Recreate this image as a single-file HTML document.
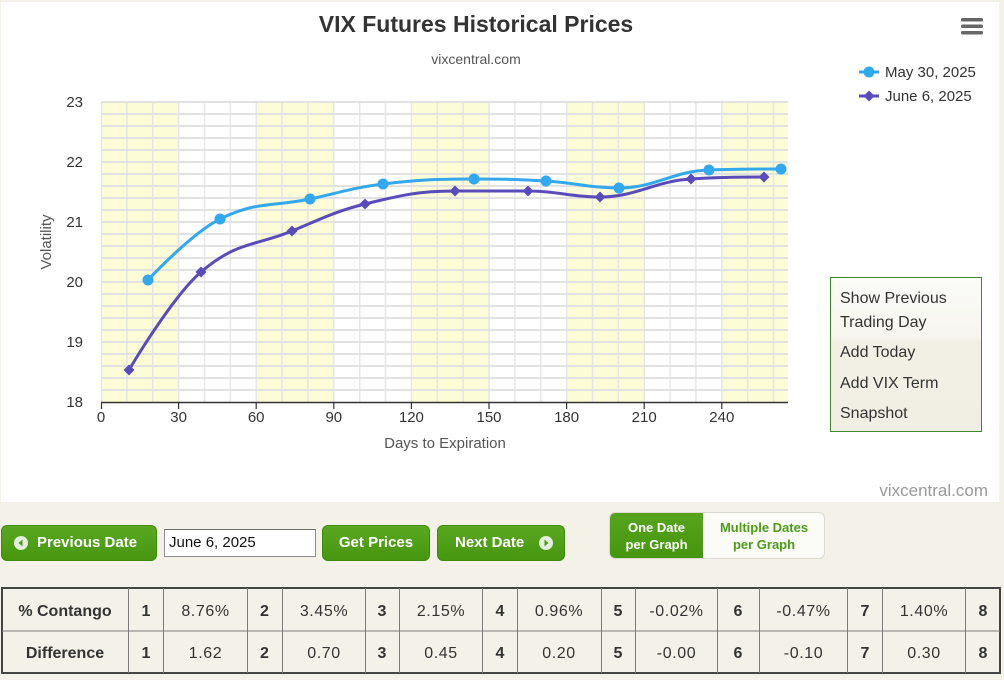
<!DOCTYPE html>
<html>
<head>
<meta charset="utf-8">
<style>
  html,body{margin:0;padding:0;}
  body{width:1004px;height:680px;background:#f4f2e8;position:relative;overflow:hidden;font-family:"Liberation Sans",sans-serif;}
  .white{position:absolute;left:1px;top:2px;width:998px;height:500px;background:#fff;}
  svg{position:absolute;left:0;top:0;}
  .btn{position:absolute;top:525px;height:36px;border-radius:6px;background:linear-gradient(#5aa821,#47960f);border:1px solid #3e8a0c;box-sizing:border-box;color:#fff;font-weight:bold;font-size:15px;line-height:34px;white-space:nowrap;}
  .ico{position:absolute;top:10px;width:14px;height:14px;border-radius:50%;background:#e4eedc;}
  .input{position:absolute;left:164px;top:529px;width:152px;height:28px;box-sizing:border-box;background:#fff;border:1px solid #8e8e8e;border-top-color:#6e6e6e;font-size:15px;line-height:26px;padding-left:4px;color:#111;}
  .tog{position:absolute;left:609px;top:512px;width:216px;height:47px;border-radius:6px;border:1px solid #dcdad0;box-sizing:border-box;background:#fbfbf8;overflow:hidden;}
  .tog div{position:absolute;top:0;height:45px;font-weight:bold;font-size:13px;line-height:17px;text-align:center;padding-top:6px;box-sizing:border-box;}
</style>
</head>
<body>
<div class="white"></div>
<svg width="1004" height="680" viewBox="0 0 1004 680" xmlns="http://www.w3.org/2000/svg" font-family="Liberation Sans, sans-serif">
  <!-- title -->
  <text x="476" y="32" text-anchor="middle" font-size="23" font-weight="bold" fill="#333">VIX Futures Historical Prices</text>
  <text x="476" y="64" text-anchor="middle" font-size="14" fill="#555">vixcentral.com</text>
  <!-- menu -->
  <rect x="961" y="18" width="22" height="3.5" rx="1.5" fill="#666"/>
  <rect x="961" y="24.5" width="22" height="3.5" rx="1.5" fill="#666"/>
  <rect x="961" y="31" width="22" height="3.5" rx="1.5" fill="#666"/>

  <!-- bands -->
  <g fill="#fcfcd6">
    <rect x="101" y="102" width="77.6" height="300"/>
    <rect x="256.2" y="102" width="77.6" height="300"/>
    <rect x="411.4" y="102" width="77.6" height="300"/>
    <rect x="566.6" y="102" width="77.6" height="300"/>
    <rect x="721.8" y="102" width="66.2" height="300"/>
  </g>
  <!-- vertical grid -->
  <g stroke="#e6e6e6" stroke-width="1.5">
    <line x1="126.9" y1="102" x2="126.9" y2="402"/><line x1="152.7" y1="102" x2="152.7" y2="402"/>
    <line x1="178.6" y1="102" x2="178.6" y2="402"/><line x1="204.5" y1="102" x2="204.5" y2="402"/>
    <line x1="230.3" y1="102" x2="230.3" y2="402"/><line x1="256.2" y1="102" x2="256.2" y2="402"/>
    <line x1="282.1" y1="102" x2="282.1" y2="402"/><line x1="307.9" y1="102" x2="307.9" y2="402"/>
    <line x1="333.8" y1="102" x2="333.8" y2="402"/><line x1="359.7" y1="102" x2="359.7" y2="402"/>
    <line x1="385.5" y1="102" x2="385.5" y2="402"/><line x1="411.4" y1="102" x2="411.4" y2="402"/>
    <line x1="437.3" y1="102" x2="437.3" y2="402"/><line x1="463.1" y1="102" x2="463.1" y2="402"/>
    <line x1="489" y1="102" x2="489" y2="402"/><line x1="514.9" y1="102" x2="514.9" y2="402"/>
    <line x1="540.7" y1="102" x2="540.7" y2="402"/><line x1="566.6" y1="102" x2="566.6" y2="402"/>
    <line x1="592.5" y1="102" x2="592.5" y2="402"/><line x1="618.3" y1="102" x2="618.3" y2="402"/>
    <line x1="644.2" y1="102" x2="644.2" y2="402"/><line x1="670.1" y1="102" x2="670.1" y2="402"/>
    <line x1="695.9" y1="102" x2="695.9" y2="402"/><line x1="721.8" y1="102" x2="721.8" y2="402"/>
    <line x1="747.7" y1="102" x2="747.7" y2="402"/><line x1="773.5" y1="102" x2="773.5" y2="402"/>
    <line x1="101.5" y1="102" x2="101.5" y2="402"/>
  </g>
  <!-- horizontal grid -->
  <g stroke="#e2e2e2" stroke-width="2">
    <line x1="101" y1="102" x2="788" y2="102"/><line x1="101" y1="114" x2="788" y2="114"/>
    <line x1="101" y1="126" x2="788" y2="126"/><line x1="101" y1="138" x2="788" y2="138"/>
    <line x1="101" y1="150" x2="788" y2="150"/><line x1="101" y1="162" x2="788" y2="162"/>
    <line x1="101" y1="174" x2="788" y2="174"/><line x1="101" y1="186" x2="788" y2="186"/>
    <line x1="101" y1="198" x2="788" y2="198"/><line x1="101" y1="210" x2="788" y2="210"/>
    <line x1="101" y1="222" x2="788" y2="222"/><line x1="101" y1="234" x2="788" y2="234"/>
    <line x1="101" y1="246" x2="788" y2="246"/><line x1="101" y1="258" x2="788" y2="258"/>
    <line x1="101" y1="270" x2="788" y2="270"/><line x1="101" y1="282" x2="788" y2="282"/>
    <line x1="101" y1="294" x2="788" y2="294"/><line x1="101" y1="306" x2="788" y2="306"/>
    <line x1="101" y1="318" x2="788" y2="318"/><line x1="101" y1="330" x2="788" y2="330"/>
    <line x1="101" y1="342" x2="788" y2="342"/><line x1="101" y1="354" x2="788" y2="354"/>
    <line x1="101" y1="366" x2="788" y2="366"/><line x1="101" y1="378" x2="788" y2="378"/>
    <line x1="101" y1="390" x2="788" y2="390"/>
  </g>
  <!-- x axis -->
  <line x1="101" y1="402.5" x2="788" y2="402.5" stroke="#333" stroke-width="1.5"/>
  <g stroke="#333" stroke-width="1.2">
    <line x1="101.5" y1="402" x2="101.5" y2="409"/><line x1="178.6" y1="402" x2="178.6" y2="409"/>
    <line x1="256.2" y1="402" x2="256.2" y2="409"/><line x1="333.8" y1="402" x2="333.8" y2="409"/>
    <line x1="411.4" y1="402" x2="411.4" y2="409"/><line x1="489" y1="402" x2="489" y2="409"/>
    <line x1="566.6" y1="402" x2="566.6" y2="409"/><line x1="644.2" y1="402" x2="644.2" y2="409"/>
    <line x1="721.8" y1="402" x2="721.8" y2="409"/>
  </g>
  <g font-size="15" fill="#333" text-anchor="middle">
    <text x="101" y="422">0</text><text x="178.6" y="422">30</text><text x="256.2" y="422">60</text>
    <text x="333.8" y="422">90</text><text x="411.4" y="422">120</text><text x="489" y="422">150</text>
    <text x="566.6" y="422">180</text><text x="644.2" y="422">210</text><text x="721.8" y="422">240</text>
  </g>
  <g font-size="15" fill="#333" text-anchor="end">
    <text x="83" y="107">23</text><text x="83" y="167">22</text><text x="83" y="227">21</text>
    <text x="83" y="287">20</text><text x="83" y="347">19</text><text x="83" y="407">18</text>
  </g>
  <text x="445" y="448" text-anchor="middle" font-size="15" fill="#555">Days to Expiration</text>
  <text transform="translate(51,242) rotate(-90)" text-anchor="middle" font-size="15" fill="#555">Volatility</text>

  <!-- series -->
  <path d="M148,280 C148,280 191.2,233.4 220,219 C256,201 274,206.7 310,199 C339.2,192.7 353.8,187.6 383,184 C419.4,179.6 437.6,179 474,179 C502.8,179 517.2,179.2 546,181 C575.2,182.8 589.8,188 619,188 C655,188 673,171 709,170 C737.8,169 781,169 781,169" fill="none" stroke="#33a8ef" stroke-width="3"/>
  <path d="M129,370 C129,370 172.2,296.6 201,272 C237.4,240.9 255.6,246.1 292,231 C321.2,218.9 335.8,211.2 365,204 C401,195.2 419,191 455,191 C484.2,191 498.8,191 528,191 C556.8,191 571.2,197 600,197 C636.4,197 654.6,181 691,179 C720.2,177 764,177 764,177" fill="none" stroke="#594bb9" stroke-width="3"/>
  <g fill="#33a8ef">
    <circle cx="148" cy="280" r="5.5"/><circle cx="220" cy="219" r="5.5"/><circle cx="310" cy="199" r="5.5"/>
    <circle cx="383" cy="184" r="5.5"/><circle cx="474" cy="179" r="5.5"/><circle cx="546" cy="181" r="5.5"/>
    <circle cx="619" cy="188" r="5.5"/><circle cx="709" cy="170" r="5.5"/><circle cx="781" cy="169" r="5.5"/>
  </g>
  <g fill="#594bb9">
    <path d="M129,364.5 L134.5,370 L129,375.5 L123.5,370Z"/>
    <path d="M201,266.5 L206.5,272 L201,277.5 L195.5,272Z"/>
    <path d="M292,225.5 L297.5,231 L292,236.5 L286.5,231Z"/>
    <path d="M365,198.5 L370.5,204 L365,209.5 L359.5,204Z"/>
    <path d="M455,185.5 L460.5,191 L455,196.5 L449.5,191Z"/>
    <path d="M528,185.5 L533.5,191 L528,196.5 L522.5,191Z"/>
    <path d="M600,191.5 L605.5,197 L600,202.5 L594.5,197Z"/>
    <path d="M691,173.5 L696.5,179 L691,184.5 L685.5,179Z"/>
    <path d="M764,171.5 L769.5,177 L764,182.5 L758.5,177Z"/>
  </g>

  <!-- legend -->
  <line x1="859" y1="72" x2="879" y2="72" stroke="#33a8ef" stroke-width="3"/>
  <circle cx="869" cy="72" r="5.5" fill="#33a8ef"/>
  <text x="885" y="77" font-size="15" fill="#333">May 30, 2025</text>
  <line x1="859" y1="96" x2="879" y2="96" stroke="#594bb9" stroke-width="3"/>
  <path d="M869,90.5 L874.5,96 L869,101.5 L863.5,96Z" fill="#594bb9"/>
  <text x="885" y="101" font-size="15" fill="#333">June 6, 2025</text>

  <!-- button box -->
  <defs>
    <linearGradient id="bg" x1="0" y1="0" x2="0" y2="1">
      <stop offset="0" stop-color="#fafaf7"/>
      <stop offset="0.38" stop-color="#f7f6f0"/>
      <stop offset="0.42" stop-color="#f2f0e4"/>
      <stop offset="1" stop-color="#f1efe3"/>
    </linearGradient>
  </defs>
  <rect x="830.5" y="277.5" width="151" height="154" fill="url(#bg)" stroke="#3c8a2a" stroke-width="1"/>
  <g font-size="16" fill="#333">
    <text x="840" y="303">Show Previous</text>
    <text x="840" y="327">Trading Day</text>
    <text x="840" y="357">Add Today</text>
    <text x="840" y="388">Add VIX Term</text>
    <text x="840" y="418">Snapshot</text>
  </g>
  <text x="988" y="496" text-anchor="end" font-size="17" fill="#999">vixcentral.com</text>

  <!-- table -->
  <rect x="2" y="588" width="998" height="85" fill="#f4f2e8" stroke="#444" stroke-width="2"/>
  <line x1="2" y1="631" x2="1000" y2="631" stroke="#7a7a7a" stroke-width="1"/>
  <g stroke="#7a7a7a" stroke-width="1">
    <line x1="128.5" y1="588" x2="128.5" y2="673"/><line x1="163.5" y1="588" x2="163.5" y2="673"/>
    <line x1="247.5" y1="588" x2="247.5" y2="673"/><line x1="282.5" y1="588" x2="282.5" y2="673"/>
    <line x1="365.5" y1="588" x2="365.5" y2="673"/><line x1="399.5" y1="588" x2="399.5" y2="673"/>
    <line x1="482.5" y1="588" x2="482.5" y2="673"/><line x1="517.5" y1="588" x2="517.5" y2="673"/>
    <line x1="601.5" y1="588" x2="601.5" y2="673"/><line x1="635.5" y1="588" x2="635.5" y2="673"/>
    <line x1="717.5" y1="588" x2="717.5" y2="673"/><line x1="759.5" y1="588" x2="759.5" y2="673"/>
    <line x1="847.5" y1="588" x2="847.5" y2="673"/><line x1="882.5" y1="588" x2="882.5" y2="673"/>
    <line x1="965.5" y1="588" x2="965.5" y2="673"/>
  </g>
  <g font-size="16" fill="#333" text-anchor="middle">
    <text x="65" y="616" font-weight="bold">% Contango</text>
    <text x="65" y="658" font-weight="bold">Difference</text>
    <g font-weight="bold">
      <text x="146" y="616">1</text><text x="264.5" y="616">2</text><text x="382" y="616">3</text><text x="500" y="616">4</text>
      <text x="618" y="616">5</text><text x="738" y="616">6</text><text x="865" y="616">7</text><text x="983" y="616">8</text>
      <text x="146" y="658">1</text><text x="264.5" y="658">2</text><text x="382" y="658">3</text><text x="500" y="658">4</text>
      <text x="618" y="658">5</text><text x="738" y="658">6</text><text x="865" y="658">7</text><text x="983" y="658">8</text>
    </g>
    <g letter-spacing="0.6">
      <text x="205.5" y="616">8.76%</text><text x="324" y="616">3.45%</text><text x="441" y="616">2.15%</text>
      <text x="559" y="616">0.96%</text><text x="676.5" y="616">-0.02%</text><text x="803.5" y="616">-0.47%</text>
      <text x="924" y="616">1.40%</text>
      <text x="205.5" y="658">1.62</text><text x="324" y="658">0.70</text><text x="441" y="658">0.45</text>
      <text x="559" y="658">0.20</text><text x="676.5" y="658">-0.00</text><text x="803.5" y="658">-0.10</text>
      <text x="924" y="658">0.30</text>
    </g>
  </g>
</svg>

<!-- controls -->
<div class="btn" style="left:1px;width:156px;">
  <div class="ico" style="left:12px;"><svg width="14" height="14" style="position:absolute;left:0;top:0"><path d="M8.5,3.5 L4.5,7 L8.5,10.5Z" fill="#4c9c19"/></svg></div>
  <span style="position:absolute;left:35px;">Previous Date</span>
</div>
<div class="input">June 6, 2025</div>
<div class="btn" style="left:322px;width:108px;text-align:center;">Get Prices</div>
<div class="btn" style="left:437px;width:128px;">
  <span style="position:absolute;left:17px;">Next Date</span>
  <div class="ico" style="left:101px;"><svg width="14" height="14" style="position:absolute;left:0;top:0"><path d="M5.5,3.5 L9.5,7 L5.5,10.5Z" fill="#4c9c19"/></svg></div>
</div>
<div class="tog">
  <div style="left:0;width:93px;background:linear-gradient(#56a41e,#47960f);color:#fff;">One Date<br>per Graph</div>
  <div style="left:93px;width:122px;color:#4c9c19;">Multiple Dates<br>per Graph</div>
</div>
</body>
</html>
